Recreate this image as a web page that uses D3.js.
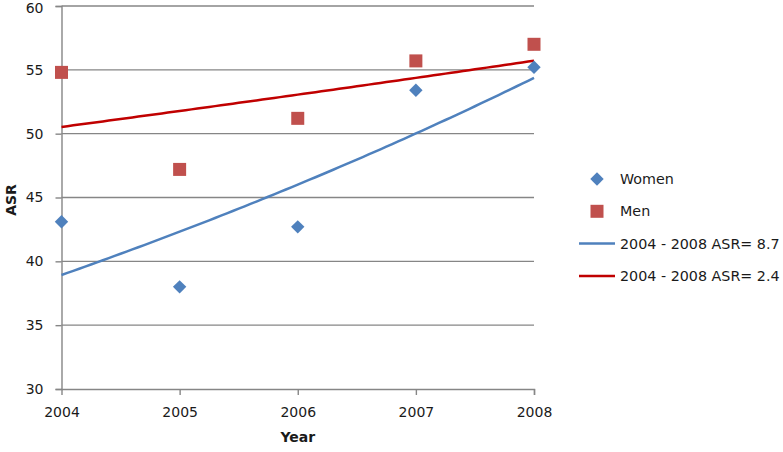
<!DOCTYPE html>
<html>
<head>
<meta charset="utf-8">
<script src="https://cdn.jsdelivr.net/npm/d3@7"></script>
<style>
  body { margin: 0; background: #fff; }
  text { font-family: "DejaVu Sans", sans-serif; fill: #1a1a1a; }
</style>
</head>
<body>
<svg id="chart" width="783" height="452"></svg>
<script>
// values
const years = [2004, 2005, 2006, 2007, 2008];
const women = [43.1, 38.0, 42.7, 53.4, 55.2];
const men = [54.8, 47.2, 51.2, 55.7, 57.0];
const yTicks = [30, 35, 40, 45, 50, 55, 60];
const legendLabels = ['Women', 'Men', '2004 - 2008 ASR= 8.7', '2004 - 2008 ASR= 2.4'];

const blue = '#4f81bd', red = '#c0504d', darkRed = '#c00000', grid = '#868686';

let svg = d3.select('#chart');
let x = d3.scaleLinear().domain([2004, 2008]).range([61.5, 534]);
let y = d3.scaleLinear().domain([30, 60]).range([389, 6]);

// exponential trend (log-linear least squares), like the spreadsheet one
function expFit(xs, vs) {
  let lx = xs.map(v => v - xs[0]);
  let lv = vs.map(v => Math.log(v));
  let mx = d3.mean(lx), mv = d3.mean(lv);
  let b = d3.sum(lx, (v, i) => (v - mx) * (lv[i] - mv)) / d3.sum(lx, v => (v - mx) * (v - mx));
  let a = mv - b * mx;
  return t => Math.exp(a + b * (t - xs[0]));
}

// grid lines
svg.append('g')
  .selectAll('line')
  .data(yTicks.slice(1))
  .join('line')
  .attr('x1', x(2004)).attr('x2', x(2008))
  .attr('y1', d => y(d)).attr('y2', d => y(d))
  .attr('stroke', grid).attr('stroke-width', 1.4);

// axes
let yAxis = d3.axisLeft(y).tickValues(yTicks).tickSize(6).tickPadding(12);
let xAxis = d3.axisBottom(x).tickValues(years).tickFormat(d3.format('d')).tickSize(6).tickPadding(12);

let gy = svg.append('g').attr('transform', `translate(${x(2004)},0)`).call(yAxis);
let gx = svg.append('g').attr('transform', `translate(0,${y(30)})`).call(xAxis);
[gx, gy].forEach(g => {
  g.select('.domain').attr('stroke', grid).attr('stroke-width', 1.4);
  g.selectAll('.tick line').attr('stroke', grid).attr('stroke-width', 1.4);
  g.selectAll('.tick text').attr('font-size', 14).attr('font-family', '"DejaVu Sans", sans-serif').attr('fill', '#1a1a1a');
});
gx.select('.tick line').remove();
gy.selectAll('.tick text').filter(d => d == 60).attr('dy', '0.45em');

// trend curves
let steps = d3.range(2004, 2008.001, 0.05);
let line = d3.line().x(d => x(d[0])).y(d => y(d[1]));
let trends = [
  {fit: expFit(years, women), color: blue},
  {fit: expFit(years, men), color: darkRed}
];
svg.append('g')
  .selectAll('path')
  .data(trends)
  .join('path')
  .attr('d', t => line(steps.map(s => [s, t.fit(s)])))
  .attr('fill', 'none')
  .attr('stroke', t => t.color)
  .attr('stroke-width', 2.5);

// markers
let diamond = d3.symbol().type(d3.symbolSquare).size(90);
svg.append('g')
  .selectAll('path')
  .data(years)
  .join('path')
  .attr('d', diamond)
  .attr('transform', (d, i) => `translate(${x(d)},${y(women[i])}) rotate(45)`)
  .attr('fill', blue);

svg.append('g')
  .selectAll('rect')
  .data(years)
  .join('rect')
  .attr('x', d => x(d) - 6.5)
  .attr('y', (d, i) => y(men[i]) - 6.5)
  .attr('width', 13).attr('height', 13)
  .attr('fill', red);

// axis titles
svg.append('text')
  .attr('x', x(2006)).attr('y', 442)
  .attr('text-anchor', 'middle')
  .attr('font-size', 14).attr('font-weight', 'bold')
  .text('Year');
svg.append('text')
  .attr('transform', 'translate(16,200) rotate(-90)')
  .attr('text-anchor', 'middle')
  .attr('font-size', 14).attr('font-weight', 'bold')
  .text('ASR');

// legend
let legend = svg.append('g').attr('transform', 'translate(0,179)');
let rows = legend.selectAll('g')
  .data(legendLabels)
  .join('g')
  .attr('transform', (d, i) => `translate(0,${i * 32.3})`);
rows.append('text')
  .attr('x', 620).attr('dy', '0.35em')
  .attr('font-size', 14.3)
  .text(d => d);
rows.filter((d, i) => i == 0).append('path')
  .attr('d', diamond)
  .attr('transform', 'translate(597,0) rotate(45)')
  .attr('fill', blue);
rows.filter((d, i) => i == 1).append('rect')
  .attr('x', 590.5).attr('y', -6.5).attr('width', 13).attr('height', 13)
  .attr('fill', red);
rows.filter((d, i) => i > 1).append('line')
  .attr('x1', 579).attr('x2', 615)
  .attr('stroke', (d, i) => i == 0 ? blue : darkRed)
  .attr('stroke-width', 2.5);
</script>
</body>
</html>
